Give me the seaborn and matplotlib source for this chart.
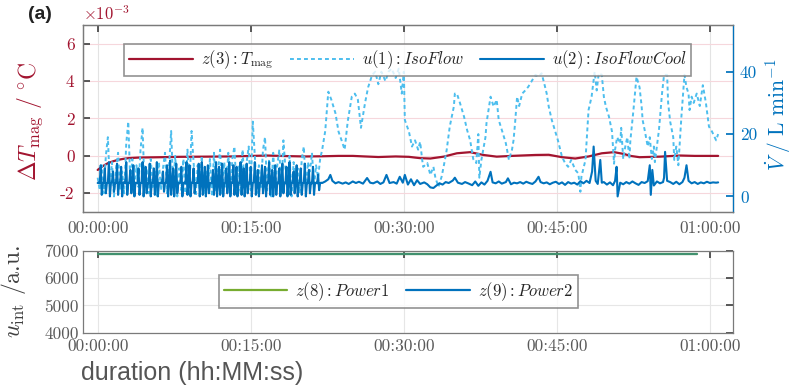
import numpy as np
import pandas as pd
import matplotlib
matplotlib.use("Agg")
import matplotlib.pyplot as plt
import seaborn as sns

# colours (MATLAB default order)
RED = "#A2142F"
LBLUE = "#4DBEEE"
BLUE = "#0072BD"
GREEN = "#77AC30"
GREY = "#5a5a5a"

# ---------------- data (minutes) ----------------
# z(3): T_mag deviation, x1e-3 degC
t_temp = [0, 0.5, 1, 1.5, 2, 2.5, 3, 4, 5, 6.2, 8, 10.5, 13, 16.6, 18.5, 20.3, 22,
          23.6, 25, 26.2, 27.5, 29.2, 30.5, 31.1, 31.6, 32.6, 33.9, 35.2, 36.5,
          37.8, 39.1, 40.6, 41.5, 42.9, 44.2, 45.5, 46.8, 48.1, 49.4, 50.6, 51.6,
          52.2, 53.1, 55.1, 57.1, 58.5, 60.8]
temp = [-0.75, -0.55, -0.39, -0.29, -0.21, -0.16, -0.12, -0.09, -0.08, -0.07, -0.05,
        -0.04, -0.03, 0.02, -0.01, -0.03, -0.02, 0.0, 0.0, -0.03, -0.06, -0.03,
        -0.05, -0.09, -0.12, -0.14, -0.04, 0.14, 0.2, 0.05, -0.04, 0.0, 0.02, 0.05,
        0.06, -0.07, -0.14, -0.03, 0.14, 0.2, 0.1, 0.0, -0.07, -0.04, 0.02, 0.0, 0.0]

# u(1): IsoFlow, L/min -- fast part sampled every 0.2 min from 0 to 22 min
iso_fast = [6, 2, 10, 1, 13, 19, 3, 11, 0, 9,
            14, 2, 8, 1, 17, 24, 4, 12, 0, 10,
            3, 15, 22, 2, 9, 1, 12, 3, 8, 0,
            11, 2, 9, 14, 1, 10, 21, 3, 13, 0,
            9, 2, 12, 1, 15, 3, 21, 11, 0, 10,
            2, 13, 1, 8, 3, 12, 0, 14, 2, 9,
            15, 1, 11, 3, 14, 0, 12, 16, 2, 10,
            1, 15, 3, 11, 16, 2, 24, 13, 1, 10,
            3, 15, 19, 2, 12, 0, 14, 3, 10, 15,
            1, 18, 9, 2, 13, 0, 11, 3, 9, 1,
            12, 16, 2, 11, 8, 14, 3, 10, 6, 12, 15]
t_iso_slow = [22.3, 22.6, 22.9, 23.3, 23.6, 23.9, 24.2, 24.5, 24.9, 25.2, 25.5, 25.8,
              26.2, 26.5, 26.9, 27.2, 27.5, 27.8, 28.2, 28.5, 28.8, 29.2, 29.5, 29.8,
              30.0, 30.1, 30.5, 30.8, 31.1, 31.4, 31.6, 31.8, 31.9, 32.3, 32.6, 32.9,
              33.1, 33.4, 33.7, 33.9, 34.2, 34.5, 34.9, 35.0, 35.2, 35.5, 35.9, 36.2,
              36.5, 36.8, 37.1, 37.3, 37.4, 37.6, 38.0, 38.1, 38.5, 38.8, 39.1, 39.3,
              39.7, 40.0, 40.3, 40.6, 40.75, 40.9, 41.1, 41.3, 41.6, 41.9, 42.2, 42.5,
              42.9, 43.2, 43.5, 43.8, 44.0, 44.2, 44.5, 44.8, 45.1, 45.5, 45.8, 46.1,
              46.4, 46.8, 47.1, 47.3, 47.4, 47.8, 47.9, 48.1, 48.4, 48.7, 48.9, 49.1,
              49.4, 49.6, 49.8, 50.1, 50.4, 50.6, 50.7, 50.9, 51.2, 51.3, 51.5, 51.7,
              51.9, 52.1, 52.2, 52.5, 52.8, 53.1, 53.3, 53.4, 53.6, 53.9, 54.1, 54.3,
              54.5, 54.6, 55.0, 55.3, 55.5, 55.8, 55.9, 56.1, 56.4, 56.5, 56.7, 56.9,
              57.2, 57.5, 57.7, 57.9, 58.0, 58.2, 58.4, 58.7, 59.0, 59.3, 59.6, 59.9,
              60.2, 60.6, 60.8]
iso_slow = [21, 33.6, 31, 26.7, 20.8, 18, 15, 24, 32, 33, 31, 22,
            30, 35, 39, 40, 36, 40, 37, 40, 41, 38, 41, 33,
            40, 24.5, 20.8, 16, 18, 15, 17.5, 11.7, 9.5, 10.7, 6.9, 9.5,
            5.9, 3.1, 6.3, 9.5, 14.9, 22.4, 28.8, 33, 33, 30, 25.6, 21.3,
            18, 12, 10.7, 20, 6, 11.7, 19, 23.5, 32, 28.8, 31, 24.5,
            20.3, 17, 11.7, 15, 18, 23.5, 32, 29, 33, 34, 35.2, 36.8,
            39, 38.4, 39.5, 35.7, 33, 28.8, 24.5, 21.3, 18, 12.7, 10.7, 9.5,
            11.7, 8.5, 7.4, 1.5, 6.3, 11.7, 17, 27.7, 32, 40, 34, 39.5,
            39, 32, 28.8, 25.6, 20.8, 10.5, 15, 19, 17, 22, 12, 16,
            19, 12, 18, 27.7, 38.4, 35, 29, 24.5, 21.3, 16, 19, 12,
            16, 11, 21.3, 33, 39, 39, 30, 24, 19, 11.7, 16, 10,
            25.6, 39, 35, 33, 27.7, 32, 30, 33, 29, 35.7, 30, 22.4,
            20.8, 18, 20]

# u(2): IsoFlowCool, L/min -- fast part sampled every 0.1 min from 0 to 22 min
cool_fast = [4.3, 4.5, 4.2, 10, 0.5, 4.4, 4.3, 9, 1, 4.2,
             4.4, 11, 0, 4.3, 4.5, 8, 1.5, 4.2, 4.3, 10.5,
             0.5, 4.4, 4.2, 9.5, 0, 4.3, 4.6, 4.2, 11, 0.5,
             4.3, 4.4, 8.5, 1, 4.2, 10, 0, 4.4, 4.3, 4.2,
             9, 0.5, 4.3, 4.4, 11, 0, 4.5, 9.5, 1, 4.3,
             4.2, 10.5, 0, 4.4, 4.3, 9, 0.5, 4.2, 11, 0,
             4.4, 4.3, 4.5, 4.2, 8, 1.5, 4.3, 4.4, 10, 0,
             4.3, 11.5, 0.5, 4.2, 9, 0, 4.4, 10.5, 1, 4.3,
             4.2, 4.5, 9.5, 0, 4.3, 4.4, 4.2, 11, 0.5, 4.3,
             10, 0, 4.4, 4.3, 9, 1, 4.2, 4.5, 4.3, 10.5,
             0, 4.4, 11, 0.5, 4.3, 9.5, 0, 4.2, 10, 1,
             4.3, 4.4, 4.2, 8.5, 0.5, 4.3, 11, 0, 4.4, 9.5,
             0.5, 4.3, 10.5, 0, 4.2, 4.4, 9, 1, 4.3, 11,
             0, 4.4, 4.3, 10, 0.5, 4.2, 9.5, 0, 4.4, 4.3,
             11, 0.5, 4.2, 9, 0, 4.3, 10.5, 1, 4.4, 4.2,
             9.5, 0, 4.3, 4.5, 11, 0.5, 4.2, 8.5, 0, 4.4,
             4.3, 10, 1, 4.2, 9.5, 0, 4.4, 4.3, 11, 0.5,
             4.2, 8.5, 0, 4.3, 10, 0.5, 4.4, 4.2, 9, 0,
             4.3, 10.5, 1, 4.4, 4.2, 9.5, 0, 4.3, 11, 0.5,
             4.2, 4.4, 8, 1, 4.3, 10, 0, 4.2, 4.5, 9,
             0.5, 4.3, 4.4, 10.5, 0, 4.2, 4.3, 8.5, 1, 4.4,
             4.2, 9.5, 0.5, 4.3, 4.4, 4.2, 7, 2, 4.3, 4.4,
             4.3]
t_cool_slow = [22.3, 22.6, 22.8, 23.0, 23.3, 23.6, 24.0, 24.3, 24.6, 25.0, 25.3, 25.6,
               26.0, 26.4, 26.7, 27.0, 27.4, 27.7, 28.0, 28.3, 28.6, 29.0, 29.3, 29.6,
               29.9, 30.1, 30.4, 30.7, 31.0, 31.3, 31.6, 32.0, 32.3, 32.6, 32.9, 33.2,
               33.5, 33.8, 34.1, 34.4, 34.8, 35.0, 35.3, 35.7, 36.0, 36.3, 36.7, 37.0,
               37.3, 37.6, 37.9, 38.2, 38.5, 38.7, 39.0, 39.3, 39.6, 40.0, 40.2, 40.5,
               40.8, 41.1, 41.4, 41.7, 42.0, 42.3, 42.6, 42.9, 43.2, 43.4, 43.7, 44.0,
               44.3, 44.6, 44.9, 45.2, 45.5, 45.8, 46.1, 46.4, 46.7, 47.0, 47.3, 47.6,
               47.9, 48.2, 48.45, 48.6, 48.8, 49.0, 49.1, 49.25, 49.4, 49.6, 49.9, 50.2,
               50.5, 50.7, 50.85, 50.95, 51.2, 51.5, 51.8, 52.1, 52.4, 52.7, 53.0, 53.3,
               53.6, 53.9, 54.1, 54.2, 54.35, 54.5, 54.8, 55.1, 55.4, 55.5, 55.6, 55.8,
               56.1, 56.4, 56.7, 57.0, 57.3, 57.5, 57.7, 57.9, 58.2, 58.5, 58.8, 59.1,
               59.4, 59.7, 60.0, 60.3, 60.6, 60.8]
cool_slow = [4.8, 5.5, 6.9, 5, 4.2, 4.6, 4.1, 4.5, 4.0, 4.8, 4.3, 4.7,
             4.1, 5.9, 4.4, 4.2, 4.8, 4.0, 4.5, 6.9, 4.3, 4.6, 4.1, 6.3,
             4.4, 6.9, 3.8, 5.5, 3.6, 5.2, 4.0, 4.5, 3.9, 2.9, 2.7, 3.5,
             4.2, 3.8, 4.6, 4.3, 5.1, 6.0, 4.4, 4.0, 4.6, 4.2, 3.6, 4.8,
             3.4, 4.5, 3.8, 5.0, 7.9, 4.5, 4.2, 4.8, 4.1, 4.6, 5.8, 3.9,
             4.4, 4.2, 4.6, 4.1, 4.7, 4.3, 4.0, 4.8, 6.3, 4.6, 4.2, 4.5,
             3.9, 4.4, 4.7, 4.0, 4.5, 3.7, 4.6, 4.1, 4.4, 3.8, 4.9, 4.2,
             5.0, 4.3, 8, 16, 5, 4.0, 7, 11.7, 4.4, 4.6, 3.8, 4.5,
             3.6, 5.0, 9.5, 0, 4.4, 3.9, 4.6, 4.1, 4.8, 4.2, 3.7, 4.6,
             4.3, 4.9, 10, 0.5, 8.5, 3.5, 4.8, 4.2, 4.6, 6, 14.3, 5.0,
             4.6, 4.0, 4.7, 3.9, 4.6, 6, 10, 5.0, 4.2, 4.6, 4.0, 4.5,
             4.2, 4.7, 4.3, 4.5, 4.4, 4.5]

# z(8), z(9): integrated power, a.u.
t_power = [0, 58.7]
power1 = [6880, 6880]
power2 = [6880, 6880]

xtick_min = [0, 15, 30, 45, 60]
xtick_lab = ["00:00:00", "00:15:00", "00:30:00", "00:45:00", "01:00:00"]

# ---------------- assemble ----------------
t_iso = np.concatenate([np.linspace(0, 22, len(iso_fast)), t_iso_slow])
iso = np.concatenate([iso_fast, iso_slow])
t_cool = np.concatenate([np.linspace(0, 22, len(cool_fast)), t_cool_slow])
cool = np.concatenate([cool_fast, cool_slow])

sns.set_theme(style="white")
plt.rcParams["font.family"] = "serif"
plt.rcParams["font.serif"] = ["cmr10", "DejaVu Serif"]
plt.rcParams["mathtext.fontset"] = "cm"
plt.rcParams["axes.unicode_minus"] = False

fig = plt.figure(figsize=(7.94, 3.87), dpi=100)
ax = fig.add_axes([0.1045, 0.4522, 0.8186, 0.4832])
ax2 = ax.twinx()
axb = fig.add_axes([0.1045, 0.1403, 0.8186, 0.2119])

# --- top panel ---
sns.lineplot(x=t_temp, y=temp, ax=ax, color=RED, lw=1.6, estimator=None,
             label=r"$z(3):T_{\rm mag}$", legend=False)
sns.lineplot(x=t_iso, y=iso, ax=ax2, color=LBLUE, lw=1.4, estimator=None,
             label=r"$u(1):IsoFlow$", legend=False)
ax2.lines[-1].set_linestyle((0, (2, 1.6)))
sns.lineplot(x=t_cool, y=cool, ax=ax2, color=BLUE, lw=1.5, estimator=None,
             label=r"$u(2):IsoFlowCool$", legend=False)

ax.set_xlim(-1.44, 62.25)
ax.set_ylim(-3, 7)
ax2.set_ylim(-5, 55)
ax.set_yticks([-2, 0, 2, 4, 6], ["-2", "0", "2", "4", "6"])
ax2.set_yticks([0, 20, 40], ["0", "20", "40"])
ax.set_xticks(xtick_min, xtick_lab)

ax.grid(axis="x", color="#e3e3e3", lw=0.8)
ax.grid(axis="y", color="#f6d7dc", lw=0.8)
ax.tick_params(axis="x", direction="in", top=True, length=5, pad=6,
               labelsize=12.5, labelcolor=GREY, color="#444444")
ax.tick_params(axis="y", direction="in", length=5, pad=6, labelsize=12.5,
               labelcolor=RED, color="#444444")
ax2.tick_params(axis="y", direction="in", length=5, pad=5, labelsize=12.5,
                labelcolor=BLUE, color=BLUE)
for a in (ax, ax2):
    for s in a.spines.values():
        s.set_color("#7a7a7a")
        s.set_linewidth(0.9)
ax2.spines["right"].set_color(BLUE)

ax.set_ylabel(r"$\Delta T_{\rm mag}\ /\ ^{\circ}\mathrm{C}$", fontsize=17, color=RED)
ax.yaxis.set_label_coords(-0.058, 0.487)
ax2.set_ylabel(r"$\dot{V}\ /\ \mathrm{L\ min}^{-1}$", fontsize=15.5, color=BLUE)
ax2.yaxis.set_label_coords(1.047, 0.52)
ax.text(0, 1.01, r"$\times10^{-3}$", transform=ax.transAxes, ha="left",
        va="bottom", fontsize=12, color=RED)

handles = ax.get_lines()[:1] + ax2.get_lines()[:2]
leg = ax2.legend(handles=handles, labels=[h.get_label() for h in handles],
                 loc="upper center", bbox_to_anchor=(0.5, 0.945), ncol=3,
                 fontsize=12, frameon=True, fancybox=False, handlelength=3.8,
                 columnspacing=1.0, borderpad=0.3, handletextpad=0.5)
leg.get_frame().set_edgecolor("#777777")
leg.get_frame().set_linewidth(1.2)

# --- bottom panel ---
sns.lineplot(x=t_power, y=power1, ax=axb, color=GREEN, lw=1.6, estimator=None,
             label=r"$z(8):Power1$", legend=False)
sns.lineplot(x=t_power, y=power2, ax=axb, color=BLUE, lw=1.6, estimator=None,
             label=r"$z(9):Power2$", legend=False, alpha=0.45)
axb.set_xlim(-1.44, 62.25)
axb.set_ylim(4000, 7000)
axb.set_yticks([4000, 5000, 6000, 7000], ["4000", "5000", "6000", "7000"])
axb.set_xticks(xtick_min, xtick_lab)
axb.grid(True, color="#e6e6e6", lw=0.8)
axb.tick_params(axis="both", direction="in", top=True, right=True, length=5,
                labelsize=12.5, labelcolor=GREY, color="#444444")
axb.tick_params(axis="x", pad=4)
axb.tick_params(axis="y", pad=3)
for s in axb.spines.values():
    s.set_color("#7a7a7a")
    s.set_linewidth(0.9)
axb.set_ylabel(r"$u_{\rm int}$ /a.u.", fontsize=17, color="#404040")
axb.yaxis.set_label_coords(-0.085, 0.5)
legb = axb.legend(loc="center", bbox_to_anchor=(0.485, 0.5), ncol=2,
                  fontsize=12, frameon=True, fancybox=False, handlelength=3.8,
                  columnspacing=1.0, borderpad=0.3, handletextpad=0.5)
legb.get_frame().set_edgecolor("#777777")
legb.get_frame().set_linewidth(1.2)
legb.get_lines()[1].set_alpha(1)

fig.text(0.035, 0.962, "(a)", fontsize=14, fontweight="bold",
         family="Liberation Sans", color="#222222", va="center")
fig.text(81 / 794, 1 - 373 / 387, "duration (hh:MM:ss)", fontsize=18,
         family="Liberation Sans", color="#555555", ha="left", va="center")

fig.savefig("out.png", dpi=100)
